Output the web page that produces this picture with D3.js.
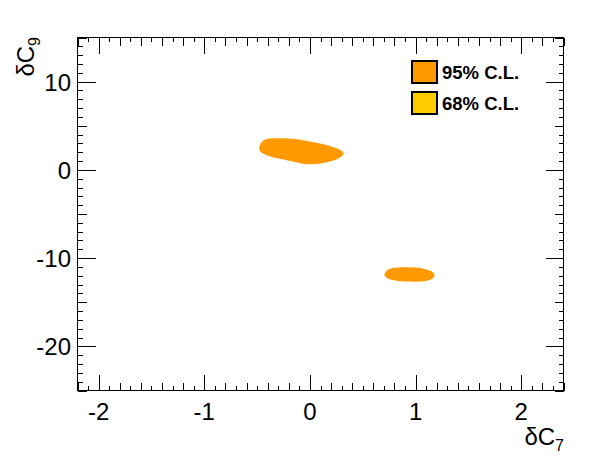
<!DOCTYPE html>
<html>
<head>
<meta charset="utf-8">
<script src="https://cdn.jsdelivr.net/npm/d3@7"></script>
<style>
  html, body { margin: 0; padding: 0; background: #fff; }
  svg { display: block; }
  text { font-family: "Liberation Sans", Arial, Helvetica, sans-serif; fill: #000; }
</style>
</head>
<body>
<svg id="chart" width="596" height="472"></svg>
<script>
// ---- data ----
const xDomain = [-2.2, 2.4];
const yDomain = [-25, 15];
const xTickLabels = [-2, -1, 0, 1, 2];
const yTickLabels = [-20, -10, 0, 10];
const xTitle = ["δC", "7"];
const yTitle = ["δC", "9"];
const legendLabels = ["95% C.L.", "68% C.L."];
const legendColors = ["#ff9900", "#ffcc00"];

// 95% C.L. contour, region 1 (x = δC7, y = δC9)
const region1X = [-0.479, -0.448, -0.401, -0.291, -0.150, -0.040, 0.085, 0.210, 0.289, 0.320, 0.289, 0.210, 0.085, -0.025, -0.134, -0.260, -0.354, -0.432, -0.472];
const region1Y = [2.63, 3.28, 3.50, 3.58, 3.50, 3.31, 3.02, 2.63, 2.26, 1.89, 1.44, 1.02, 0.68, 0.64, 0.87, 1.21, 1.44, 1.77, 2.15];
// 95% C.L. contour, region 2
const region2X = [0.705, 0.742, 0.836, 0.961, 1.071, 1.149, 1.181, 1.149, 1.071, 0.946, 0.836, 0.742];
const region2Y = [-11.86, -11.30, -11.07, -11.04, -11.19, -11.49, -11.94, -12.40, -12.62, -12.66, -12.58, -12.35];

// ---- layout ----
const svg = d3.select("#chart");
const L = 77.5, R = 563.5, T = 37.5, B = 390.5;
const x = d3.scaleLinear().domain(xDomain).range([L, R]);
const y = d3.scaleLinear().domain(yDomain).range([B, T]);
const FS = 24;

// contours
const line = d3.line().x(d => x(d[0])).y(d => y(d[1])).curve(d3.curveCatmullRomClosed.alpha(0.5));
[[region1X, region1Y], [region2X, region2Y]].forEach(([xs, ys]) => {
  const pts = xs.map((v, i) => [v, ys[i]]);
  svg.append("path").attr("d", line(pts)).attr("fill", legendColors[0]).attr("stroke", "none");
});

// ticks
function rangeStep(a, b, s) {
  const out = [];
  const n0 = Math.ceil(a / s - 1e-9), n1 = Math.floor(b / s + 1e-9);
  for (let i = n0; i <= n1; i++) out.push(+(i * s).toFixed(6));
  return out;
}
const g = svg.append("g").attr("stroke", "#000").attr("stroke-width", 1).attr("shape-rendering", "crispEdges");
function tickLen(v, major, mid, lens) {
  if (Math.abs(v / major - Math.round(v / major)) < 1e-6) return lens[0];
  if (Math.abs(v / mid - Math.round(v / mid)) < 1e-6) return lens[1];
  return lens[2];
}
rangeStep(xDomain[0], xDomain[1], 0.1).forEach(v => {
  const len = tickLen(v, 1, 0.2, [16, 8, 4.5]);
  const px = Math.round(x(v)) + 0.5;
  g.append("line").attr("x1", px).attr("x2", px).attr("y1", B).attr("y2", B - len);
  g.append("line").attr("x1", px).attr("x2", px).attr("y1", T).attr("y2", T + len);
});
rangeStep(yDomain[0], yDomain[1], 1).forEach(v => {
  const len = tickLen(v, 10, 5, [18, 9, 5]);
  const py = Math.round(y(v)) + 0.5;
  g.append("line").attr("x1", L).attr("x2", L + len).attr("y1", py).attr("y2", py);
  g.append("line").attr("x1", R).attr("x2", R - len).attr("y1", py).attr("y2", py);
});
g.append("rect").attr("x", L).attr("y", T).attr("width", R - L).attr("height", B - T).attr("fill", "none");

// tick labels
xTickLabels.forEach(v => {
  svg.append("text").attr("x", x(v)).attr("y", 420).attr("text-anchor", "middle")
    .attr("font-size", FS).text(v);
});
yTickLabels.forEach(v => {
  svg.append("text").attr("x", 71).attr("y", y(v) + 9).attr("text-anchor", "end")
    .attr("font-size", FS).text(v);
});

// axis titles
const xt = svg.append("text").attr("x", 564).attr("y", 445).attr("text-anchor", "end").attr("font-size", 24);
xt.append("tspan").text(xTitle[0]);
xt.append("tspan").attr("font-size", 16).attr("dy", 6).text(xTitle[1]);

const yt = svg.append("text").attr("transform", "translate(34,37) rotate(-90)").attr("text-anchor", "end").attr("font-size", 24);
yt.append("tspan").text(yTitle[0]);
yt.append("tspan").attr("font-size", 16).attr("dy", 6).text(yTitle[1]);

// legend
legendLabels.forEach((lab, i) => {
  const yy = 61 + i * 31;
  svg.append("rect").attr("x", 412).attr("y", yy).attr("width", 25).attr("height", 22)
    .attr("fill", legendColors[i]).attr("stroke", "#000").attr("stroke-width", 2);
  svg.append("text").attr("x", 442).attr("y", yy + 17.5).attr("font-size", 18.5).attr("font-weight", "bold").text(lab);
});
</script>
</body>
</html>
